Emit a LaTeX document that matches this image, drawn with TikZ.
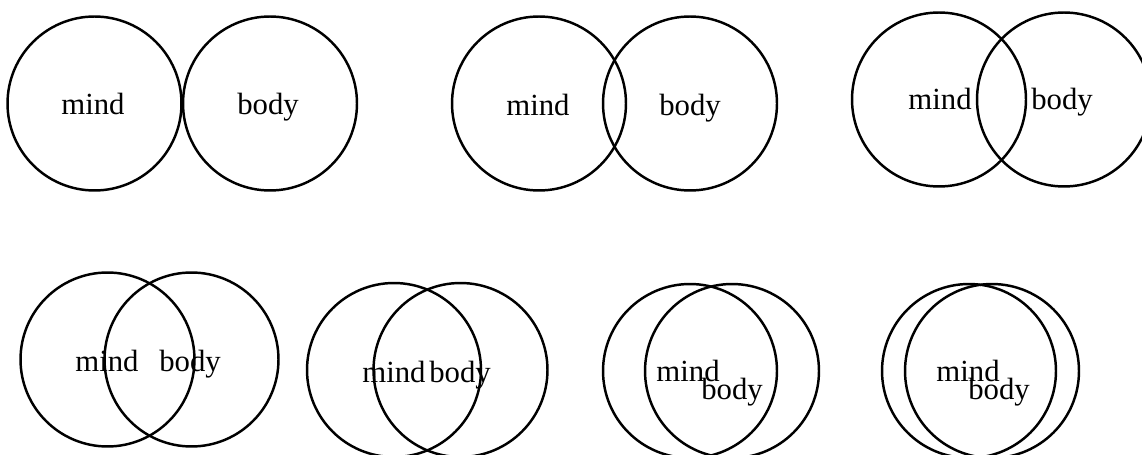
\documentclass[tikz,border=0pt]{standalone}
\usepackage{fontspec}
\setmainfont{Liberation Serif}
\usepackage{tikz}
\usetikzlibrary{positioning}

\begin{document}
\begin{tikzpicture}[x=0.02cm, y=-0.02cm, every node/.style={font=\fontsize{17.5}{21}\selectfont}]
    \tikzstyle{blob} = [circle, draw=black, line width=1.4pt, minimum size=3.48cm, inner sep=0pt]
    \tikzstyle{word} = [anchor=base, inner sep=0pt]
    \useasboundingbox (0,0) rectangle (1142,455);

    % top row
    \node (mind1) [blob] at (94.5,103.5) {};
    \node (body1) [blob] at (270,103.5) {};
    \node (mindtext1) [word] at (93,115) {mind};
    \node (bodytext1) [word] at (268,115) {body};

    \node (mind2) [blob] at (539,103.5) {};
    \node (body2) [blob] at (690,103.5) {};
    \node (mindtext2) [word] at (538,116) {mind};
    \node (bodytext2) [word] at (690,116) {body};

    \node (mind3) [blob] at (939,99.5) {};
    \node (body3) [blob] at (1064,99.5) {};
    \node (mindtext3) [word] at (940,110) {mind};
    \node (bodytext3) [word] at (1062,110) {body};

    % bottom row
    \node (mind4) [blob] at (107.5,359.5) {};
    \node (body4) [blob] at (191.5,359.5) {};
    \node (mindtext4) [word] at (107,371.5) {mind};
    \node (bodytext4) [word] at (190,371.5) {body};

    \node (mind5) [blob] at (394,370) {};
    \node (body5) [blob] at (460.5,370) {};
    \node (mindtext5) [word] at (394,382.5) {mind};
    \node (bodytext5) [word] at (460,382.5) {body};

    \node (mind6) [blob] at (690,371) {};
    \node (body6) [blob] at (732,371) {};
    \node (mindtext6) [word] at (688,382) {mind};
    \node (bodytext6) [word] at (732,400) {body};

    \node (mind7) [blob] at (969,371) {};
    \node (body7) [blob] at (992,371) {};
    \node (mindtext7) [word] at (968,382) {mind};
    \node (bodytext7) [word] at (999,400) {body};
\end{tikzpicture}
\end{document}
